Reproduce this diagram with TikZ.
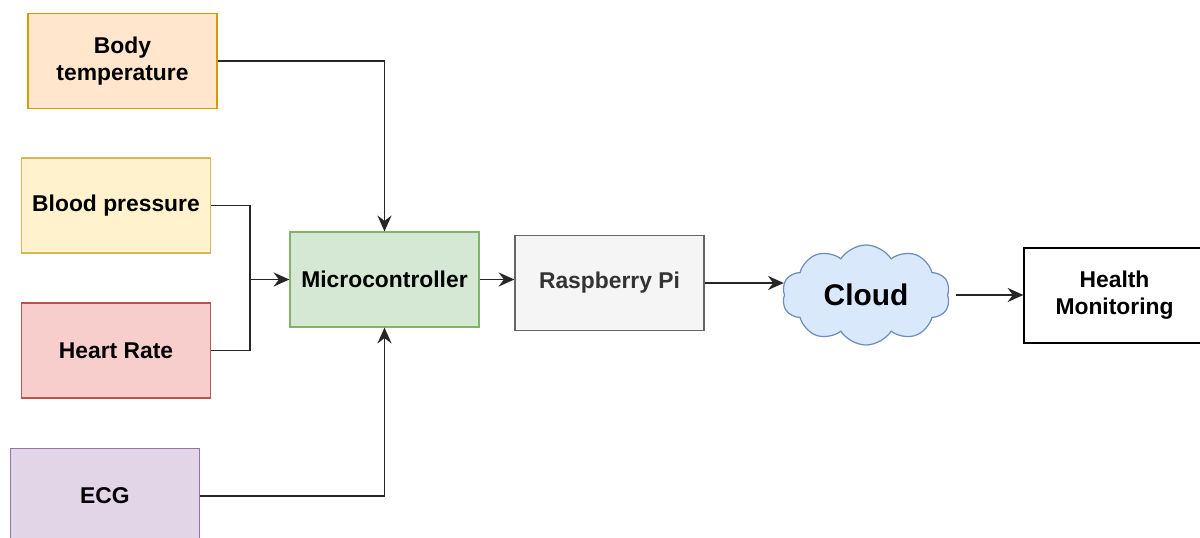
\documentclass[tikz,border=0pt]{standalone}
\usepackage{fontspec}
\setmainfont{Liberation Sans}
\definecolor{orfill}{HTML}{FFE6CC}
\definecolor{ordraw}{HTML}{D79B00}
\definecolor{ylfill}{HTML}{FFF2CC}
\definecolor{yldraw}{HTML}{D6B656}
\definecolor{rdfill}{HTML}{F8CECC}
\definecolor{rddraw}{HTML}{B85450}
\definecolor{pufill}{HTML}{E1D5E7}
\definecolor{pudraw}{HTML}{9673A6}
\definecolor{gnfill}{HTML}{D5E8D4}
\definecolor{gndraw}{HTML}{82B366}
\definecolor{gyfill}{HTML}{F5F5F5}
\definecolor{gydraw}{HTML}{666666}
\definecolor{gytext}{HTML}{333333}
\definecolor{blfill}{HTML}{DAE8FC}
\definecolor{bldraw}{HTML}{6C8EBF}
\usetikzlibrary{arrows.meta,positioning,shapes.symbols,calc}
\tikzset{
  block/.style={draw, line width=0.7pt, minimum width=3.78cm, minimum height=1.9cm, font=\fontsize{13}{15.5}\selectfont\bfseries, align=center},
  link/.style={draw=black!85, line width=0.9pt, -{Stealth[length=9pt,width=8pt,inset=3pt]}},
  wire/.style={draw=black!85, line width=0.9pt}
}

\begin{document}
\begin{tikzpicture}
  \useasboundingbox (0,0) rectangle (24,10.74);

  % sensors
  \node[block, draw=ordraw, fill=orfill] (body) at (2.45,9.52) {Body\\temperature};
  \node[block, draw=yldraw, fill=ylfill] (blood) at (2.32,6.63) {Blood pressure};
  \node[block, draw=rddraw, fill=rdfill] (heart) at (2.32,3.73) {Heart Rate};
  \node[block, draw=pudraw, fill=pufill] (ecg) at (2.10,0.82) {ECG};

  % processing chain
  \node[block, draw=gndraw, fill=gnfill] (mcu) at (7.69,5.15) {Microcontroller};
  \node[block, draw=gydraw, fill=gyfill, text=gytext] (rpi) at (12.19,5.08) {Raspberry Pi};
  \node[cloud, cloud puffs=10, cloud puff arc=115, aspect=1.7, draw=bldraw, fill=blfill, line width=0.7pt, minimum width=3.36cm, minimum height=2.0cm, font=\fontsize{17}{20}\selectfont\bfseries] (cloud) at (17.32,4.84) {Cloud};
  \node[block, draw=black, fill=white, minimum width=3.62cm] (health) at (22.29,4.83) {Health\\Monitoring};

  % connectors
  \coordinate (bus) at (5.0,5.15);
  \draw[link] (body.east) -| (mcu.north);
  \draw[wire] (blood.east) -| (bus);
  \draw[wire] (heart.east) -| (bus);
  \draw[link] (bus) -- (mcu.west);
  \draw[link] (ecg.east) -| (mcu.south);
  \draw[link] (mcu.east) -- (mcu.east -| rpi.west);
  \draw[link] (rpi.east) -- (rpi.east -| cloud.west);
  \draw[link] ([xshift=0.15cm]cloud.east) -- (cloud.east -| health.west);
\end{tikzpicture}
\end{document}
